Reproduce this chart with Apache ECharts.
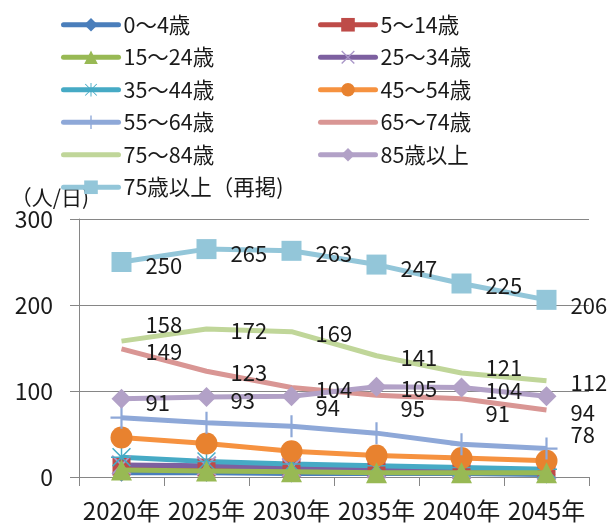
<!DOCTYPE html>
<html><head><meta charset="utf-8">
<script src="https://cdn.jsdelivr.net/npm/echarts@6/dist/echarts.min.js"></script>
<style>html,body{margin:0;padding:0;background:#fff;}#c{width:609px;height:525px;}</style>
</head><body><div id="c"></div>
<script>
const categories = ['2020年','2025年','2030年','2035年','2040年','2045年'];
const yTicks = [0,100,200,300];
const seriesNames = ['0〜4歳','5〜14歳','15〜24歳','25〜34歳','35〜44歳','45〜54歳','55〜64歳','65〜74歳','75〜84歳','85歳以上','75歳以上（再掲)'];
const v0_4   = [5,5,4,4,4,3];
const v5_14  = [12,11,10,9,8,7];
const v15_24 = [8,7,6,5,5,5];
const v25_34 = [14,13,11,10,9,8];
const v35_44 = [23,18,15,13,11,9];
const v45_54 = [46,39,30,25,22,19];
const v55_64 = [69,63,59,51,38,33];
const v65_74 = [149,123,104,95,91,78];
const v75_84 = [158,172,169,141,121,112];
const v85    = [91,93,94,105,104,94];
const v75p   = [250,265,263,247,225,206];

const FONT = '"Noto Sans CJK JP", sans-serif';
const PLUS = 'path://M9,0H11V20H9ZM0,9H20V11H0Z';
const CROSS = 'path://M0,1.4L1.4,0L20,18.6L18.6,20ZM18.6,0L20,1.4L1.4,20L0,18.6Z';
const AST = 'path://M9.3,0H10.7V20H9.3ZM0,9.3H20V10.7H0ZM1,2L2,1L19,18L18,19ZM18,1L19,2L2,19L1,18Z';

// label vertical nudges (style only)
const labelDy = {
  '65〜74歳': [3,1,2,13,15,25],
  '75〜84歳': [-16,2,2,2,-5,2],
  '85歳以上': [4,4,11,2,3,16],
  '75歳以上（再掲)': [4,5,3,4,2,6]
};

function mk(name, values, color, symbol, size, symColor, labeled) {
  const dy = labelDy[name];
  const data = values.map((v,i)=> dy ? {value:v, label:{offset:[0,dy[i]]}} : v);
  return {
    name, type:'line', data, symbol, symbolSize:size, showAllSymbol:true,
    lineStyle:{color, width:5}, itemStyle:{color:symColor || color},
    emphasis:{disabled:true},
    label: labeled ? {show:true, position:'right', distance: 24 - size/2,
      color:'#1a1a1a', fontSize:22, fontFamily:FONT} : {show:false},
    z: 2
  };
}

const series = [
  mk(seriesNames[0], v0_4, '#4A7EBB', 'diamond', 18),
  mk(seriesNames[1], v5_14, '#BE4B48', 'rect', 18),
  mk(seriesNames[2], v15_24, '#98B954', 'triangle', 21),
  mk(seriesNames[3], v25_34, '#7D60A0', CROSS, 20, '#A996C8'),
  mk(seriesNames[4], v35_44, '#46AAC5', AST, 21),
  mk(seriesNames[5], v45_54, '#F69240', 'circle', 22, '#E8822F'),
  mk(seriesNames[6], v55_64, '#8EA8D8', PLUS, 22),
  mk(seriesNames[7], v65_74, '#D99694', 'circle', 2, 'rgba(0,0,0,0)', true),
  mk(seriesNames[8], v75_84, '#C0D699', 'circle', 2, 'rgba(0,0,0,0)', true),
  mk(seriesNames[9], v85, '#B2A1C7', 'diamond', 20, '#B2A1C7', true),
  mk(seriesNames[10], v75p, '#93C6D9', 'rect', 20, '#93C6D9', true)
];
series[2].z = 3;

const legendCommon = {
  orient:'vertical', top:14, padding:0, itemWidth:55, itemHeight:17, itemGap:11,
  lineStyle:{width:5, cap:'round'},
  textStyle:{fontSize:21.5, lineHeight:20, color:'#1a1a1a', fontFamily:FONT},
  selectedMode:false
};

const chart = echarts.init(document.getElementById('c'), null, {renderer:'canvas'});
chart.setOption({
  animation:false,
  backgroundColor:'#fff',
  textStyle:{fontFamily:FONT},
  legend:[
    Object.assign({left:61, data:[0,2,4,6,8,10].map(i=>seriesNames[i])}, legendCommon),
    Object.assign({left:318, data:[1,3,5,7,9].map(i=>seriesNames[i])}, legendCommon)
  ],
  grid:{left:79, right:20, top:219, bottom:48, containLabel:false},
  xAxis:{
    type:'category', data:categories, boundaryGap:true,
    axisLine:{show:true, lineStyle:{color:'#868686', width:1}},
    axisTick:{show:true, length:9, lineStyle:{color:'#868686'}},
    axisLabel:{fontSize:24, color:'#1a1a1a', margin:22, interval:0, fontFamily:FONT}
  },
  yAxis:{
    type:'value', min:yTicks[0], max:yTicks[yTicks.length-1], interval:100,
    name:'（人/日)', nameLocation:'end', nameGap:11,
    nameTextStyle:{fontSize:21, color:'#1a1a1a', align:'center', padding:[0,58,0,0], fontFamily:FONT},
    axisLine:{show:true, lineStyle:{color:'#868686', width:1}},
    axisTick:{show:true, length:9, lineStyle:{color:'#868686'}},
    axisLabel:{fontSize:23, color:'#1a1a1a', margin:26, fontFamily:FONT},
    splitLine:{show:true, lineStyle:{color:'#868686', width:1}}
  },
  series
});
</script>
</body></html>
